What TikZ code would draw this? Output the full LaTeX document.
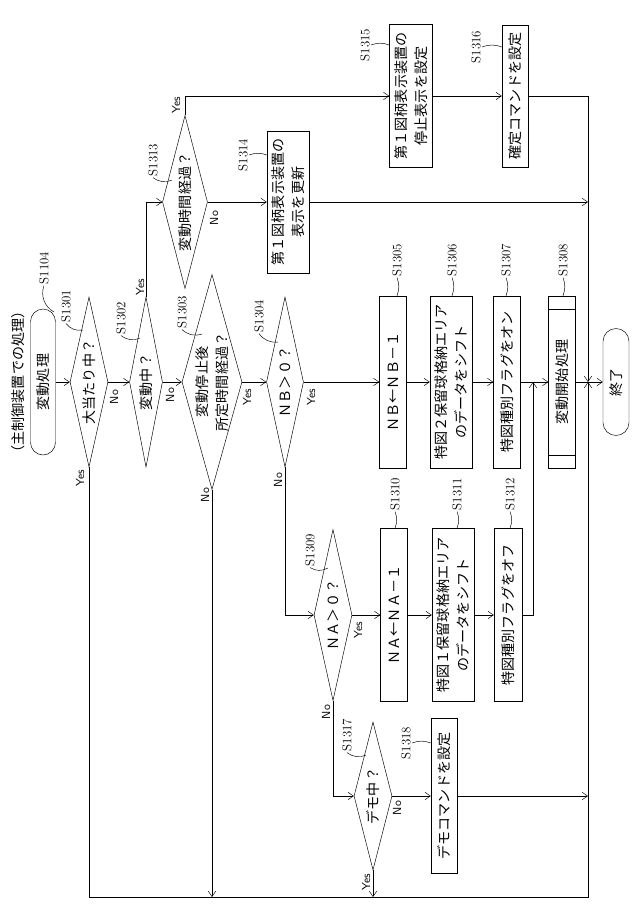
\documentclass[tikz,border=0pt]{standalone}
\usepackage{fontspec}
\newfontfamily\jp{Noto Sans CJK JP}
\usetikzlibrary{arrows.meta,shapes.geometric}

\tikzset{
  dia/.style={diamond,draw,inner sep=0pt},
  box/.style={rectangle,draw,inner sep=0pt},
  term/.style={rectangle,draw,inner sep=0pt,rounded corners=3.8mm},
  txt/.style={rotate=90,font=\jp\fontsize{12}{17}\selectfont,align=center},
  lab/.style={rotate=90,font=\fontsize{11}{12}\selectfont,inner sep=1pt},
  yn/.style={rotate=90,font=\sffamily\fontsize{10}{11}\selectfont,inner sep=1pt},
}

\begin{document}
\begin{tikzpicture}[x=0.3mm,y=-0.3mm,>={Straight Barb[length=1.6mm,width=2.2mm]},thin]
  \useasboundingbox (0,0) rectangle (640,924);

  \node[txt] (title) at (18,382) {（主制御装置での処理）};

  % main column
  \node[term,minimum width=25*0.3mm,minimum height=146*0.3mm] (start) at (43,382) {};
  \node[txt] at (start) {変動処理};
  \node[dia,minimum width=38*0.3mm,minimum height=170*0.3mm] (d1) at (89,382) {};
  \node[txt] at (d1) {大当たり中？};
  \node[dia,minimum width=33*0.3mm,minimum height=170*0.3mm] (d2) at (146,382) {};
  \node[txt] at (d2) {変動中？};
  \node[dia,minimum width=60*0.3mm,minimum height=215*0.3mm] (d3) at (212,382) {};
  \node[txt] at (d3) {変動停止後\\所定時間経過？};
  \node[dia,minimum width=37*0.3mm,minimum height=170*0.3mm] (d4) at (285,382) {};
  \node[txt] at (d4) {ＮＢ＞０？};
  \node[box,minimum width=27*0.3mm,minimum height=172*0.3mm] (s1305) at (393,382) {};
  \node[txt] at (s1305) {ＮＢ←ＮＢ－１};
  \node[box,minimum width=42*0.3mm,minimum height=172*0.3mm] (s1306) at (451,382) {};
  \node[txt] at (s1306) {特図２保留球格納エリア\\のデータをシフト};
  \node[box,minimum width=27*0.3mm,minimum height=172*0.3mm] (s1307) at (507,382) {};
  \node[txt] at (s1307) {特図種別フラグをオン};
  \node[box,minimum width=27*0.3mm,minimum height=172*0.3mm] (s1308) at (562,382) {};
  \draw ([yshift=-13*0.3mm]s1308.north west) -- ([yshift=-13*0.3mm]s1308.north east);
  \draw ([yshift=13*0.3mm]s1308.south west) -- ([yshift=13*0.3mm]s1308.south east);
  \node[txt] at (s1308) {変動開始処理};
  \node[term,minimum width=26*0.3mm,minimum height=107*0.3mm,rounded corners=3.9mm] (end) at (616,382) {};
  \node[txt] at (end) {終了};

  % upper branch
  \node[dia,minimum width=45*0.3mm,minimum height=173*0.3mm] (d5) at (185,202) {};
  \node[txt] at (d5) {変動時間経過？};
  \node[box,minimum width=42*0.3mm,minimum height=142*0.3mm] (s1314) at (288,202) {};
  \node[txt] at (s1314) {第１図柄表示装置の\\表示を更新};
  \node[box,minimum width=43*0.3mm,minimum height=143*0.3mm] (s1315) at (411,96) {};
  \node[txt] at (s1315) {第１図柄表示装置の\\停止表示を設定};
  \node[box,minimum width=26*0.3mm,minimum height=142*0.3mm] (s1316) at (515,96) {};
  \node[txt] at (s1316) {確定コマンドを設定};

  % lower branch
  \node[dia,minimum width=38*0.3mm,minimum height=171*0.3mm] (d6) at (333,615) {};
  \node[txt] at (d6) {ＮＡ＞０？};
  \node[box,minimum width=27*0.3mm,minimum height=173*0.3mm] (s1310) at (394,615) {};
  \node[txt] at (s1310) {ＮＡ←ＮＡ－１};
  \node[box,minimum width=42*0.3mm,minimum height=173*0.3mm] (s1311) at (453,615) {};
  \node[txt] at (s1311) {特図１保留球格納エリア\\のデータをシフト};
  \node[box,minimum width=28*0.3mm,minimum height=173*0.3mm] (s1312) at (508,615) {};
  \node[txt] at (s1312) {特図種別フラグをオフ};
  \node[dia,minimum width=38*0.3mm,minimum height=148*0.3mm] (d7) at (373,796) {};
  \node[txt] at (d7) {デモ中？};
  \node[box,minimum width=26*0.3mm,minimum height=155*0.3mm] (s1318) at (444,796) {};
  \node[txt] at (s1318) {デモコマンドを設定};

  \coordinate (jr) at (588,382);
  \coordinate (j2) at (588,202);
  \coordinate (j3) at (588,796);
  \coordinate (m1) at (533,382);
  \coordinate (bl) at (89,897);
  \coordinate (br) at (588,897);

  % connectors
  \draw[->] (start) -- (d1);
  \draw[->] (d1) -- (d2);
  \draw[->] (d2) -- (d3);
  \draw[->] (d3) -- (d4);
  \draw[->] (d4) -- (s1305);
  \draw[->] (s1305) -- (s1306);
  \draw[->] (s1306) -- (s1307);
  \draw[->] (s1307) -- (s1308);
  \draw[->] (s1308) -- (end);
  \draw[->] (d2.north) |- (d5.west);
  \draw[->] (d5.north) |- (s1315.west);
  \draw[->] (d5) -- (s1314);
  \draw[->] (s1315) -- (s1316);
  \draw[->] (s1316.east) -| (jr);
  \draw[->] (s1314.east) -- (j2);
  \draw[->] (d1.south) -- (bl) -- (br) -- (jr);
  \draw[->] (d3.south) -- (d3.south |- bl);
  \draw[->] (d4.south) |- (d6.west);
  \draw[->] (d6) -- (s1310);
  \draw[->] (s1310) -- (s1311);
  \draw[->] (s1311) -- (s1312);
  \draw[->] (s1312.east) -| (m1);
  \draw[->] (d6.south) |- (d7.west);
  \draw[->] (d7) -- (s1318);
  \draw[->] (s1318.east) -- (j3);
  \draw[->] (d7.south) -- (d7.south |- bl);

  % yes / no
  \node[yn] at (114,397) {No};
  \node[yn] at (80,478) {Yes};
  \node[yn] at (170,395) {No};
  \node[yn] at (140,287) {Yes};
  \node[yn] at (247,397) {Yes};
  \node[yn] at (205,495) {No};
  \node[yn] at (311,397) {Yes};
  \node[yn] at (278,480) {No};
  \node[yn] at (176,105) {Yes};
  \node[yn] at (214,218) {No};
  \node[yn] at (358,630) {Yes};
  \node[yn] at (326,712) {No};
  \node[yn] at (397,808) {No};
  \node[yn] at (366,882) {Yes};

  % step labels
  \node[lab] (l1104) at (44,268) {S1104};
  \draw (l1104.west) to[bend right=40] (54,312);
  \node[lab] (l1301) at (66,306) {S1301};
  \draw (l1301.west) to[bend right=30] (83,330);
  \node[lab] (l1302) at (121,318) {S1302};
  \draw (l1302.west) to[bend right=30] (140,338);
  \node[lab] (l1303) at (182,312) {S1303};
  \draw (l1303.west) to[bend right=30] (202,334);
  \node[lab] (l1304) at (259,316) {S1304};
  \draw (l1304.west) to[bend right=30] (278,342);
  \node[lab] (l1313) at (153,160) {S1313};
  \draw (l1313.west) to[bend right=30] (172,180);
  \node[lab] (l1314) at (243,155) {S1314};
  \draw (l1314.south) to[bend left=20] (s1314.west |- l1314.south);
  \node[lab] (l1315) at (365,45) {S1315};
  \draw (l1315.south) to[bend left=20] (s1315.west |- l1315.south);
  \node[lab] (l1316) at (476,47) {S1316};
  \draw (l1316.south) to[bend left=20] (s1316.west |- l1316.south);
  \node[lab] (l1305) at (397,260) {S1305};
  \draw (l1305.west) to[bend left=20] (l1305.west |- s1305.north);
  \node[lab] (l1306) at (452,260) {S1306};
  \draw (l1306.west) to[bend left=20] (l1306.west |- s1306.north);
  \node[lab] (l1307) at (506,260) {S1307};
  \draw (l1307.west) to[bend left=20] (l1307.west |- s1307.north);
  \node[lab] (l1308) at (563,260) {S1308};
  \draw (l1308.west) to[bend left=20] (l1308.west |- s1308.north);
  \node[lab] (l1310) at (395,494) {S1310};
  \draw (l1310.west) to[bend left=20] (l1310.west |- s1310.north);
  \node[lab] (l1311) at (457,494) {S1311};
  \draw (l1311.west) to[bend left=20] (l1311.west |- s1311.north);
  \node[lab] (l1312) at (510,494) {S1312};
  \draw (l1312.west) to[bend left=20] (l1312.west |- s1312.north);
  \node[lab] (l1309) at (310,550) {S1309};
  \draw (l1309.west) to[bend right=30] (328,568);
  \node[lab] (l1317) at (347,735) {S1317};
  \draw (l1317.west) to[bend right=30] (366,755);
  \node[lab] (l1318) at (406,743) {S1318};
  \draw (l1318.south) to[bend left=20] (s1318.west |- l1318.south);
\end{tikzpicture}
\end{document}
